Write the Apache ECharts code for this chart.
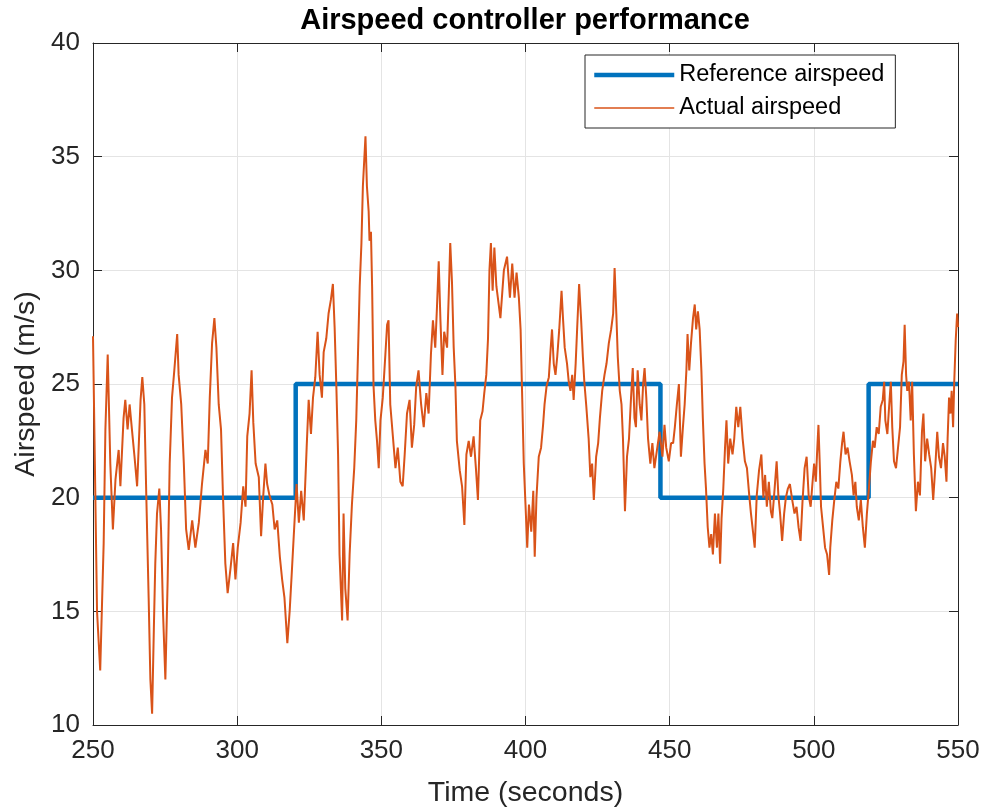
<!DOCTYPE html>
<html>
<head>
<meta charset="utf-8">
<script src="https://cdn.jsdelivr.net/npm/echarts@6/dist/echarts.min.js"></script>
<style>html,body{margin:0;padding:0;background:#fff}#c{width:983px;height:809px}</style>
</head>
<body>
<div id="c"></div>
<script>
var chartTitle = 'Airspeed controller performance';
var xLabel = 'Time (seconds)';
var yLabel = 'Airspeed (m/s)';
var seriesNames = ['Reference airspeed', 'Actual airspeed'];
var xTicks = [250, 300, 350, 400, 450, 500, 550];
var yTicks = [10, 15, 20, 25, 30, 35, 40];

var refTime  = [250, 320.3, 320.3, 446.8, 446.8, 519, 519, 550];
var refSpeed = [20, 20, 25, 25, 20, 20, 25, 25];

var actualTime = [
250,251.4,252.5,253.7,254.3,255.1,256,256.9,257.8,258.9,259.5,260.6,261.2,262,262.7,263.5,264.4,265.3,265.9,266.5,
267.1,267.8,268.5,269.3,269.9,270.5,271.1,271.6,272.2,273,273.6,274.3,275.1,275.9,276.6,277.4,278.2,279.2,279.7,280.6,
281.5,282.3,283.2,284.4,285.5,286.7,287.8,289,289.8,290.5,291.3,292.1,292.8,293.6,294.4,295.1,295.9,296.7,297.7,298.6,
299.4,300.2,301.2,302.1,302.9,303.5,304.3,305,305.6,306.4,307.5,308.3,309,309.8,310.4,311.2,312.2,313,313.9,314.8,
315.6,316.4,317.4,318.2,318.9,319.7,320.6,321.4,322.2,323.1,324.1,324.8,325.6,326.3,327.1,327.9,328.6,329.4,330,330.9,
331.7,332.5,333.2,333.8,334.4,335,335.5,336.4,336.9,337.5,338.3,339,339.8,340.6,341.3,341.9,342.5,343.1,343.6,344.5,
345,345.6,345.9,346.4,346.8,347.3,347.9,348.5,349.1,349.7,350.5,351.4,352,352.5,353.1,354,354.9,355.7,356.6,357.4,
358.1,358.9,359.8,360.6,361.4,362.1,362.9,363.8,364.7,365.6,366.4,367.2,367.9,368.7,369.3,369.9,370.5,371.2,371.8,372.8,
373.4,373.9,374.5,375.1,375.7,376.2,377.2,378,378.8,379.5,380.3,381.1,382,382.8,383.5,384.3,385.1,385.7,386.4,387,
387.5,388,388.6,389.2,389.9,390.7,391.3,392.5,393.6,394.6,395.4,396.2,396.9,397.7,398.3,398.8,399.4,400,400.6,401.2,
402,402.7,403.2,403.8,404.6,405.4,406.1,406.6,407.3,408.1,408.7,409.2,409.8,410.4,411,411.7,412.5,413,413.6,414.4,
415,415.6,416.2,416.7,417.4,417.9,418.6,419.3,419.9,420.4,421.1,421.9,422.5,423.1,423.7,424.5,425.2,425.8,426.6,427.4,
428.1,428.9,429.7,430.4,430.9,431.5,432,432.7,433.3,433.8,434.5,435.2,435.9,436.6,437.2,437.8,438.3,438.9,439.6,440.2,
440.8,441.3,441.9,442.5,443.3,444,444.7,445.6,446.5,447.5,448.2,448.8,449.7,450.5,451.2,451.8,452.5,453.2,453.9,454.6,
455.2,455.8,456.2,456.8,457.4,458.1,458.7,459.2,459.8,460.4,461,461.5,462.1,462.6,463.2,463.8,464.4,465,465.7,466.4,
466.9,467.5,468,468.6,469.2,469.7,470.3,471,471.8,472.4,473.1,473.8,474.5,475.3,476.1,476.8,477.6,478.2,478.9,479.5,
480.2,481,481.8,482.5,483.1,483.7,484.4,485.1,485.6,486.4,487.1,487.7,488.3,489,489.7,490.3,491,491.7,492.5,493.3,
494,494.7,495.4,496.1,496.8,497.5,498.2,498.9,499.5,500.1,500.7,501.1,501.6,502.1,502.5,503.2,503.9,504.6,505.3,505.7,
506.4,507.1,507.8,508.5,509.2,509.8,510.3,511,511.7,512.4,513.2,513.8,514.4,514.9,515.6,516.3,517,517.7,518.4,519.1,
519.8,520.5,521.1,521.8,522.5,523.2,523.9,524.4,524.8,525.5,526.1,526.7,527.2,527.8,528.5,529.2,529.9,530.5,531.1,531.5,
532,532.4,533,533.6,534.1,534.7,535.4,536.1,536.8,537.5,538,538.6,539.3,540,540.7,541.4,542.1,542.8,543.4,544.1,
544.8,545.4,546,546.4,546.9,547.4,547.8,548.3,548.7,549.2,549.7,550
];
var actualSpeed = [
27.1,15,12.4,18,23,26.3,21.5,18.6,20.8,22.1,20.5,23.5,24.3,23,24.1,23,21.8,20.5,22.4,24.3,
25.3,24.1,20,15.6,12,10.5,14.2,17.1,19.3,20.4,18.6,14.9,12,16.4,21.5,24.4,25.6,27.2,25.4,24.1,
21.5,18.6,17.7,19,17.8,18.9,20.6,22.1,21.5,24.4,26.8,27.9,26.6,24.1,23,20,17.1,15.8,16.9,18,
16.4,17.8,18.9,20.5,19.6,22.7,23.7,25.6,23.3,21.5,20.9,18.3,20,21.5,20.6,20.1,19.7,18.6,19,17.4,
16.4,15.6,13.6,15,16.6,18.5,20.6,18.9,20.3,19,22.2,24.3,22.8,24.4,25.3,27.3,25.4,24.4,26.4,27,
28.1,28.7,29.4,27.5,24.9,21.9,17.5,14.6,19.3,16,14.6,17.5,19.7,21.3,23.4,26.3,29.3,31.2,33.7,35.9,
33.7,32.6,31.3,31.7,29.3,24.9,23.4,22.5,21.3,23.4,24.4,26.3,27.6,27.8,24.1,22.7,21.3,22.2,20.7,20.5,
21.9,23.7,24.3,22.2,23.2,24.9,25.6,24.1,23.1,24.6,23.7,26.3,27.8,26.6,28.4,30.4,27.8,25.4,27.3,26.6,
29,31.2,29.5,26.6,24.9,22.5,21.2,20.5,18.8,21.9,22.5,21.8,22.7,21.3,19.9,23.4,23.8,24.6,25.4,27,
30,31.2,29.1,31,29.3,28.5,27.9,30,30.6,28.8,30.3,28.8,29.9,28.8,27.4,24.7,21.5,19.7,17.8,19.7,
18.5,20.3,17.4,20,21.8,22.2,23.2,24.1,24.9,25.3,26.5,27.4,25.9,25.4,26.2,27.4,29.1,27.9,26.6,25.9,
25.1,24.7,25.4,24.3,25.9,27.4,29.4,27.8,26.2,25.1,24,22.6,20.9,21.5,19.9,21.8,22.4,23.5,24.7,25.4,
25.9,26.8,27.4,28.1,30.1,28.1,26.2,24.7,24.1,22.6,19.4,21.8,22.6,24.4,25.7,23.5,23.1,25.6,24.1,23.4,
25,25.7,24.4,22.6,21.5,22.4,21.3,22.1,22.9,21.8,23.2,22.2,21.6,22.4,22.4,23.1,24.1,25,21.8,23.1,
24.1,25.6,27.2,25.6,26.8,27.9,28.5,27.4,28.2,27.4,25.6,23.5,21.5,20.4,18.7,17.8,18.4,17.5,19.3,17.8,
19.3,17.1,19.1,20.4,22.2,23.4,21.5,22.6,21.9,22.6,24,23.1,24,22.6,21.6,21.3,20.1,19.3,18.5,17.8,
20.1,21.2,21.9,20,21,19.6,20.7,19.4,19.1,20.4,21.6,20.1,19.3,18.1,19.3,20,20.4,20.6,19.9,19.3,
19.6,18.7,18.1,19.9,21.3,21.8,20.1,19.6,20.6,21.5,20.7,21.9,23.2,21.3,19.6,18.7,17.8,17.5,16.6,17.8,
19,19.9,20.7,20.4,21.6,22.4,22.9,21.9,22.2,21.6,21,20.1,20.7,19.6,19,19.9,18.7,17.8,19.3,20.4,
21.6,22.5,22.2,23.1,22.8,24,24.3,25.1,23.4,22.8,24,25.1,23.1,21.6,21.3,22.2,23.1,25.4,26,27.6,
25.4,24.7,25.1,23.4,25.1,21.9,19.4,20.7,20.1,22.9,23.7,21.6,22.6,21.9,21.3,19.9,21.3,22.9,21.8,21.3,
22.4,21.8,20.7,22.6,24.4,23.7,24.7,23.1,25.1,26.9,28.1,27.5
];

var refData = refTime.map(function (t, i) { return [t, refSpeed[i]]; });
var actData = actualTime.map(function (t, i) { return [t, actualSpeed[i]]; });

var axisColor = '#262626';
var fontFam = '"Liberation Sans", Arial, Helvetica, sans-serif';

var chart = echarts.init(document.getElementById('c'), null, { renderer: 'canvas' });
chart.setOption({
  animation: false,
  backgroundColor: '#ffffff',
  textStyle: { fontFamily: fontFam },
  title: {
    text: chartTitle,
    left: 520, top: 1, textAlign: 'center',
    textStyle: { fontSize: 29, fontWeight: 'bold', color: '#000', fontFamily: fontFam }
  },
  legend: {
    orient: 'vertical',
    left: 585, top: 55,
    itemWidth: 80, itemHeight: 16, itemGap: 9,
    padding: [8, 11, 8, 7],
    borderColor: axisColor, borderWidth: 1, backgroundColor: '#fff',
    textStyle: { fontSize: 23.5, color: '#000', fontFamily: fontFam },
    data: [
      { name: seriesNames[0], lineStyle: { width: 4.5 }, itemStyle: { opacity: 0 } },
      { name: seriesNames[1], lineStyle: { width: 1.6 }, itemStyle: { opacity: 0 } }
    ]
  },
  grid: { left: 93, right: 25, top: 43, bottom: 84, containLabel: false, outerBoundsMode: 'none' },
  xAxis: [{
    type: 'value', min: xTicks[0], max: xTicks[xTicks.length - 1], interval: 50,
    name: xLabel, nameLocation: 'middle', nameGap: 54,
    nameTextStyle: { fontSize: 28.5, color: axisColor, fontFamily: fontFam },
    axisLine: { show: true, lineStyle: { color: axisColor, width: 1 } },
    axisTick: { show: true, inside: true, length: 9, lineStyle: { color: axisColor } },
    axisLabel: { fontSize: 26, color: axisColor, margin: 13, fontFamily: fontFam },
    splitLine: { show: true, lineStyle: { color: '#e4e4e4', width: 1 } }
  }, {
    type: 'value', position: 'top', min: xTicks[0], max: xTicks[xTicks.length - 1], interval: 50,
    axisLine: { show: true, lineStyle: { color: axisColor, width: 1 } },
    axisTick: { show: true, inside: true, length: 9, lineStyle: { color: axisColor } },
    axisLabel: { show: false }, splitLine: { show: false }
  }],
  yAxis: [{
    type: 'value', min: yTicks[0], max: yTicks[yTicks.length - 1], interval: 5,
    name: yLabel, nameLocation: 'middle', nameGap: 49, nameRotate: 90,
    nameTextStyle: { fontSize: 28.5, color: axisColor, fontFamily: fontFam },
    axisLine: { show: true, lineStyle: { color: axisColor, width: 1 } },
    axisTick: { show: true, inside: true, length: 9, lineStyle: { color: axisColor } },
    axisLabel: { fontSize: 26, color: axisColor, margin: 13, fontFamily: fontFam },
    splitLine: { show: true, lineStyle: { color: '#e4e4e4', width: 1 } }
  }, {
    type: 'value', position: 'right', min: yTicks[0], max: yTicks[yTicks.length - 1], interval: 5,
    axisLine: { show: true, lineStyle: { color: axisColor, width: 1 } },
    axisTick: { show: true, inside: true, length: 9, lineStyle: { color: axisColor } },
    axisLabel: { show: false }, splitLine: { show: false }
  }],
  series: [{
    name: seriesNames[0], type: 'line', data: refData,
    symbol: 'none', z: 3,
    lineStyle: { color: '#0072BD', width: 4.5 }, itemStyle: { color: '#0072BD' }
  }, {
    name: seriesNames[1], type: 'line', data: actData,
    symbol: 'none', z: 4,
    lineStyle: { color: '#D95319', width: 2 }, itemStyle: { color: '#D95319' }
  }]
});
</script>
</body>
</html>
